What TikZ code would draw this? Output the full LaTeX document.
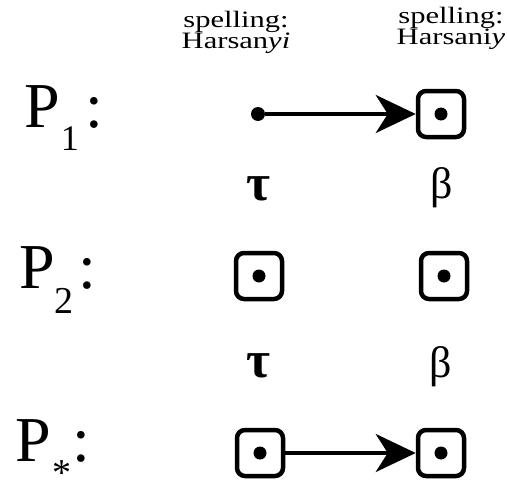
\documentclass[tikz,border=0pt]{standalone}
\usepackage{fontspec}
\usepackage{graphicx}
\setmainfont{Liberation Serif}
\usetikzlibrary{arrows.meta}
\newcommand{\wide}[1]{\scalebox{1.3}[1]{#1}}
\begin{document}
\begin{tikzpicture}[x=1pt,y=-1pt,
  spell/.style={font=\fontsize{23.5}{20}\selectfont, inner sep=0pt, anchor=base},
  cbox/.style={draw, line width=4.5pt, rounded corners=8pt, minimum width=46pt, minimum height=46pt, inner sep=0pt,
    path picture={\fill (path picture bounding box.center) circle (6.5pt);}},
  gk/.style={font=\fontsize{44}{44}\selectfont, inner sep=0pt, anchor=base},
  gkb/.style={font=\fontsize{52}{52}\selectfont\bfseries, inner sep=0pt, anchor=base},
  plab/.style={inner sep=0pt, anchor=base west, font=\fontsize{64}{64}\selectfont},
  arr/.style={line width=3.8pt, -{Stealth[length=40pt,width=38pt,inset=12pt]}},
  bigdot/.style={circle, fill, inner sep=0pt, minimum size=14pt},
]
\useasboundingbox (0,0) rectangle (507,482);

% header labels
\node[spell] (s1) at (236,27) {\begin{tabular}[t]{@{}c@{}}\wide{spelling:}\\[0pt]\wide{Harsan\textit{yi}}\end{tabular}};
\node[spell] (s2) at (451,23) {\begin{tabular}[t]{@{}c@{}}\wide{spelling:}\\[0pt]\wide{Harsani\textit{y}}\end{tabular}};

% row labels
\node[plab] (p1) at (24,127) {P\hspace{1pt}\raisebox{-23pt}[0pt][0pt]{\fontsize{36}{36}\selectfont 1}\hspace{7pt}:};
\node[plab] (p2) at (19,288) {P\raisebox{-25pt}[0pt][0pt]{\fontsize{38}{38}\selectfont 2}\hspace{5pt}:};
\node[plab] (p3) at (15,461) {P\hspace{2pt}\raisebox{-24pt}[0pt][0pt]{\fontsize{38}{38}\selectfont *}\hspace{1pt}:};

% row 1
\node[bigdot] (d1) at (258,114) {};
\node[cbox] (b1) at (441,114) {};
\draw[arr] (d1) -- (b1);
\node[gkb] (t1) at (258,200) {τ};
\node[gk] (be1) at (442,198) {β};

% row 2
\node[cbox] (b2l) at (259,276) {};
\node[cbox] (b2r) at (444,276) {};
\node[gkb] (t2) at (258,377) {τ};
\node[gk] (be2) at (441,377) {β};

% row 3
\node[cbox] (b3l) at (260,453) {};
\node[cbox] (b3r) at (441,453) {};
\draw[arr] (b3l) -- (b3r);
\end{tikzpicture}
\end{document}
